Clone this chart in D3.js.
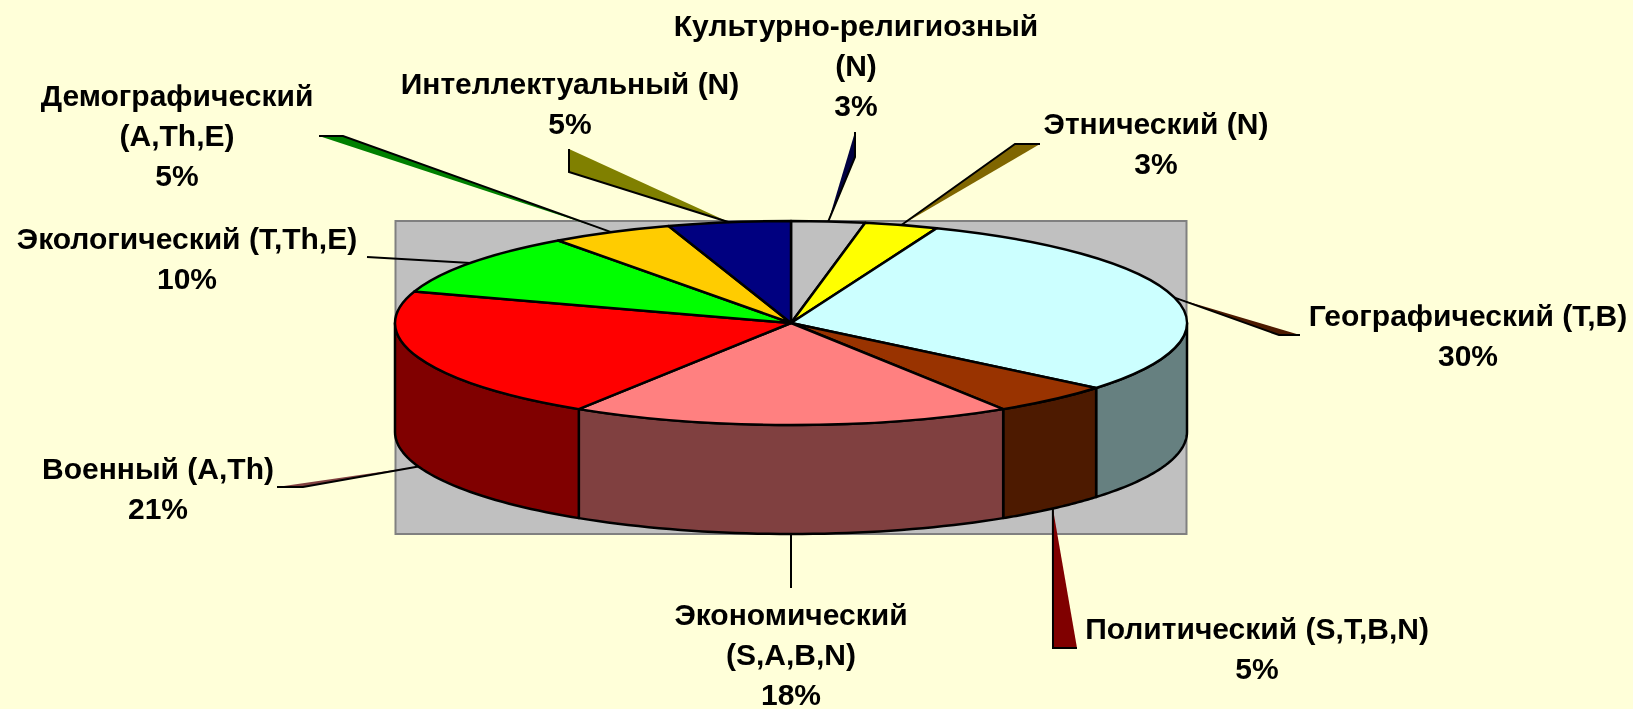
<!DOCTYPE html>
<html>
<head>
    <meta charset="utf-8">
    <script src="https://d3js.org/d3.v7.min.js"></script>
    <style>
        html, body { margin: 0; padding: 0; background: #ffffd9; overflow: hidden; }
        svg { display: block; filter: blur(0.45px); }
        svg text {
            font-family: "Liberation Sans", Arial, sans-serif;
            font-weight: bold;
            font-size: 30px;
            fill: #000;
            text-anchor: middle;
        }
    </style>
</head>
<body>
<script>
    // values, clockwise from 12 o'clock
    var categories = ["Культурно-религиозный", "Этнический", "Географический", "Политический",
        "Экономический", "Военный", "Экологический", "Демографический", "Интеллектуальный"];
    var codes = ["(N)", "(N)", "(T,B)", "(S,T,B,N)", "(S,A,B,N)", "(A,Th)", "(T,Th,E)", "(A,Th,E)", "(N)"];
    var values = [3, 3, 30, 5, 18, 21, 10, 5, 5];
    var topColors = ["#c0c0c0", "#ffff00", "#ccffff", "#993300", "#ff8080", "#ff0000", "#00ff00", "#ffcc00", "#000080"];
    var sideColors = ["#606060", "#808000", "#668080", "#4d1a00", "#804040", "#800000", "#008000", "#806600", "#000040"];

    // how each label wraps in the picture: 1 = code on its own line
    var codeOnOwnLine = [1, 0, 0, 0, 1, 0, 0, 1, 0];

    // layout
    var width = 1633, height = 709,
        cx = 791, cy = 323,
        rx = 396, ry = 102,
        depth = 109;

    var labelPos = [[856, 36], [1156, 134], [1468, 326], [1257, 639], [791, 625], [158, 479], [187, 249], [177, 106], [570, 94]];
    var lineGap = 40;
    // tip of each leader: [inner corner, outer corner]; null outer corner = plain line
    var leaderTips = [
        [[855, 157], [855, 132]],
        [[1015, 144], [1040, 144]],
        [[1279, 335], [1300, 335]],
        [[1053, 648], [1077, 648]],
        [[791, 588], null],
        [[303, 487], [277, 487]],
        [[367, 257], null],
        [[343, 136], [319, 136]],
        [[569, 172], [569, 149]]
    ];
    // the leader wedges carry a dark colour from another slice in the picture
    var leaderColor = [8, 7, 3, 5, 4, 4, 6, 6, 1];

    var svg = d3.select("body").append("svg")
        .attr("width", width)
        .attr("height", height);

    svg.append("rect")
        .attr("x", 395.5).attr("y", 221)
        .attr("width", 791).attr("height", 313)
        .attr("fill", "#c0c0c0")
        .attr("stroke", "#808080")
        .attr("stroke-width", 2);

    var slices = d3.pie().sort(null).startAngle(0).endAngle(2 * Math.PI)(values);

    // the pie is flattened by projecting angle -> ellipse
    var px = d3.scaleLinear().domain([-1, 1]).range([cx - rx, cx + rx]);
    var py = d3.scaleLinear().domain([-1, 1]).range([cy - ry, cy + ry]);
    function rimPoint(a, drop) {
        return [px(Math.sin(a)), py(-Math.cos(a)) + drop];
    }

    var line = d3.line();

    // front wall, only the part of each slice facing the viewer
    var wallFrom = Math.PI / 2, wallTo = 3 * Math.PI / 2;
    slices.forEach(function (s) {
        var a0 = Math.max(s.startAngle, wallFrom), a1 = Math.min(s.endAngle, wallTo);
        if (a1 <= a0) return;
        var angles = d3.range(0, 41).map(function (i) { return a0 + (a1 - a0) * i / 40; });
        var pts = angles.map(function (a) { return rimPoint(a, 0); })
            .concat(angles.slice().reverse().map(function (a) { return rimPoint(a, depth); }));
        svg.append("path")
            .attr("d", line(pts) + "Z")
            .attr("fill", sideColors[s.index])
            .attr("stroke", "#000")
            .attr("stroke-width", 2.5)
            .attr("stroke-linejoin", "round");
    });

    // top face
    var arc = d3.arc().innerRadius(0).outerRadius(rx);
    svg.append("g")
        .attr("transform", "translate(" + cx + "," + cy + ") scale(1," + (ry / rx) + ")")
        .selectAll("path")
        .data(slices)
        .enter()
        .append("path")
        .attr("d", arc)
        .attr("fill", function (d) { return topColors[d.index]; })
        .attr("stroke", "#000")
        .attr("stroke-width", 2.5)
        .attr("stroke-linejoin", "round")
        .attr("vector-effect", "non-scaling-stroke");

    // leaders start on the rim at the middle of the slice
    slices.forEach(function (s, i) {
        var mid = (s.startAngle + s.endAngle) / 2;
        var front = mid > wallFrom && mid < wallTo;
        var start = rimPoint(mid, front ? depth : 0);
        var tip = leaderTips[i];
        if (tip[1]) {
            svg.append("path")
                .attr("d", line([start, tip[0], tip[1]]) + "Z")
                .attr("fill", sideColors[leaderColor[i]]);
            svg.append("path")
                .attr("d", line([start, tip[0], tip[1]]))
                .attr("fill", "none")
                .attr("stroke", "#000")
                .attr("stroke-width", 2);
        } else {
            svg.append("path")
                .attr("d", line([start, tip[0]]))
                .attr("fill", "none")
                .attr("stroke", "#000")
                .attr("stroke-width", 2);
        }
    });

    categories.forEach(function (name, i) {
        var pct = values[i] + "%";
        var lines = codeOnOwnLine[i] ? [name, codes[i], pct] : [name + " " + codes[i], pct];
        var t = svg.append("text")
            .attr("transform", "translate(" + labelPos[i][0] + "," + labelPos[i][1] + ")");
        lines.forEach(function (l, j) {
            t.append("tspan").attr("x", 0).attr("y", j * lineGap).text(l);
        });
    });
</script>
</body>
</html>
